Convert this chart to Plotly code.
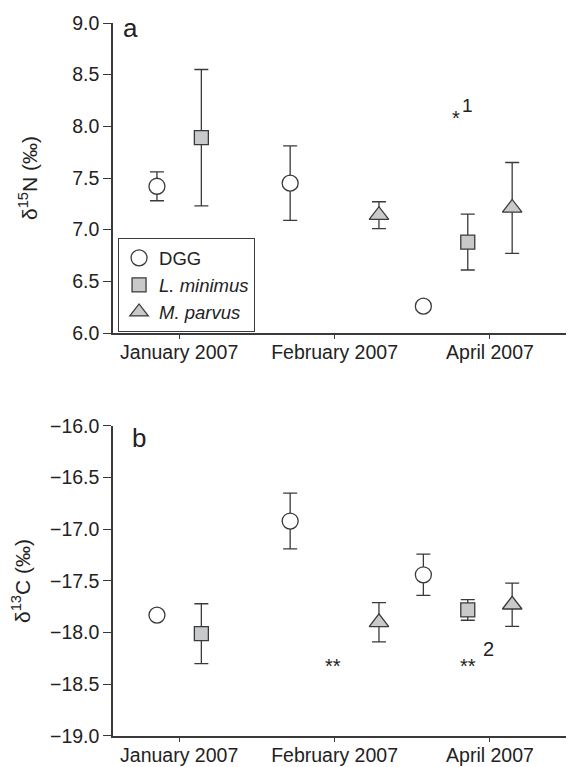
import plotly.graph_objects as go

# slot positions (three groups x three series)
dgg_x = [0, 3, 6]
lmin_x = [1, 7]
mpar_x = [5, 8]

tick_pos = [0.5, 4, 7.5]
tick_text = ["January 2007", "February 2007", "April 2007"]

# panel a: delta 15N
n_dgg = [7.42, 7.45, 6.26]
n_dgg_err = [0.14, 0.36, 0.0]
n_lmin = [7.89, 6.88]
n_lmin_err = [0.66, 0.27]
n_mpar = [7.14, 7.21]
n_mpar_err = [0.13, 0.44]

# panel b: delta 13C
c_dgg = [-17.83, -16.92, -17.44]
c_dgg_err = [0.0, 0.27, 0.20]
c_lmin = [-18.01, -17.78]
c_lmin_err = [0.29, 0.10]
c_mpar = [-17.90, -17.73]
c_mpar_err = [0.19, 0.21]

FONT = "Liberation Sans, Arial, sans-serif"
LINE = "#3a3a3a"
GRAY = "#c8c9cb"

fig = go.Figure()

def err(vals):
    return dict(type="data", array=vals, visible=True, color=LINE, thickness=1.3, width=7)

def add_series(x, y, e, symbol, fill, size, name, xa, ya, show):
    fig.add_trace(go.Scatter(
        x=x, y=y, mode="markers", name=name, showlegend=show,
        error_y=err(e),
        marker=dict(symbol=symbol, size=size, color=fill, line=dict(color=LINE, width=1.3)),
        xaxis=xa, yaxis=ya,
    ))

add_series(dgg_x, n_dgg, n_dgg_err, "circle", "white", 16, "DGG", "x", "y", True)
add_series(lmin_x, n_lmin, n_lmin_err, "square", GRAY, 14, "<i>L. minimus</i>", "x", "y", True)
add_series(mpar_x, n_mpar, n_mpar_err, "triangle-up", GRAY, 17, "<i>M. parvus</i>", "x", "y", True)

add_series(dgg_x, c_dgg, c_dgg_err, "circle", "white", 16, "DGG", "x2", "y2", False)
add_series(lmin_x, c_lmin, c_lmin_err, "square", GRAY, 14, "<i>L. minimus</i>", "x2", "y2", False)
add_series(mpar_x, c_mpar, c_mpar_err, "triangle-up", GRAY, 17, "<i>M. parvus</i>", "x2", "y2", False)

xcommon = dict(range=[-0.99, 9.37], tickvals=tick_pos, ticktext=tick_text,
               showline=True, linecolor=LINE, linewidth=1.5, ticks="outside",
               ticklen=4, tickcolor=LINE, tickwidth=1.3, showgrid=False, zeroline=False,
               ticklabelstandoff=-3, automargin=False,
               tickfont=dict(size=19.5, color="#222"))
ycommon = dict(showline=True, linecolor=LINE, linewidth=1.5, ticks="outside",
               ticklen=8, tickcolor=LINE, tickwidth=1.3, showgrid=False, zeroline=False,
               automargin=False,
               tickformat=".1f", dtick=0.5, tickfont=dict(size=19.5, color="#222"))

fig.update_layout(
    width=566, height=759,
    margin=dict(l=105, r=1, t=15, b=31),
    paper_bgcolor="white", plot_bgcolor="white",
    font=dict(family=FONT, color="#222"),
    xaxis=dict(domain=[0, 1], anchor="y", **xcommon),
    yaxis=dict(domain=[0.5652, 1], anchor="x", range=[6.0, 9.0],
               title=dict(text="δ<sup>15</sup>N (‰)", font=dict(size=21), standoff=29), **ycommon),
    xaxis2=dict(domain=[0, 1], anchor="y2", **xcommon),
    yaxis2=dict(domain=[0, 0.4348], anchor="x2", range=[-19.0, -16.0],
                title=dict(text="δ<sup>13</sup>C (‰)", font=dict(size=21), standoff=29), **ycommon),
    legend=dict(x=0.011, y=0.698, xanchor="left", yanchor="top",
                bgcolor="white", bordercolor=LINE, borderwidth=1,
                font=dict(size=18.5, color="#222"), itemsizing="trace",
                tracegroupgap=0),
    showlegend=True,
)

ann = [
    dict(text="a", x=0.039, y=0.993, xref="paper", yref="paper", size=26),
    dict(text="b", x=0.057, y=0.418, xref="paper", yref="paper", size=26),
    dict(text="*", x=6.74, y=8.08, xref="x", yref="y", size=20),
    dict(text="1", x=6.99, y=8.20, xref="x", yref="y", size=19),
    dict(text="**", x=3.97, y=-18.32, xref="x2", yref="y2", size=20),
    dict(text="**", x=7.01, y=-18.32, xref="x2", yref="y2", size=20),
    dict(text="2", x=7.46, y=-18.16, xref="x2", yref="y2", size=20),
]
for a in ann:
    fig.add_annotation(text=a["text"], x=a["x"], y=a["y"], xref=a["xref"], yref=a["yref"],
                       showarrow=False, xanchor="center", yanchor="middle",
                       font=dict(size=a["size"], color="#222", family=FONT))

fig.write_html("out.html")
